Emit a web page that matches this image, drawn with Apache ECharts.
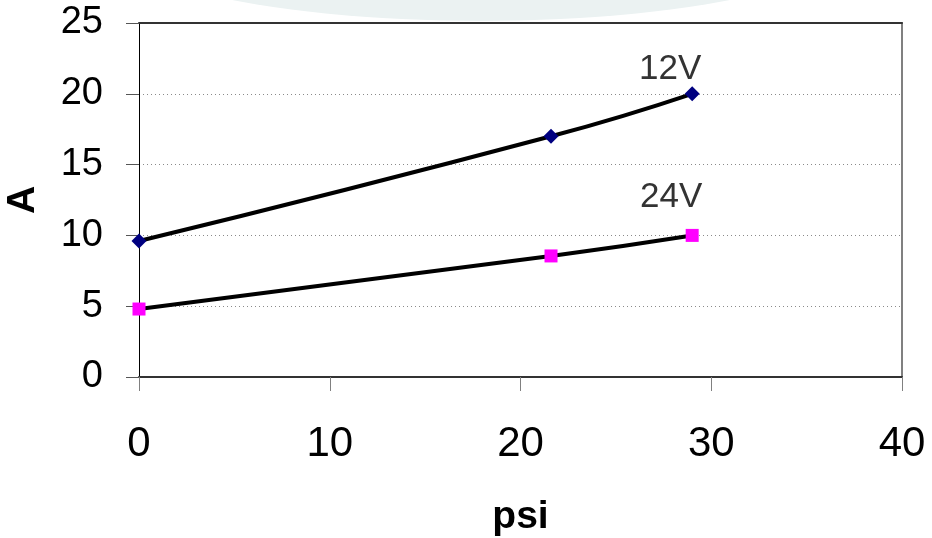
<!DOCTYPE html>
<html>
<head>
<meta charset="utf-8">
<script src="https://cdn.jsdelivr.net/npm/echarts@6/dist/echarts.min.js"></script>
<style>
html,body{margin:0;padding:0;background:#fff;}
#chart{width:932px;height:538px;}
</style>
</head>
<body>
<div id="chart"></div>
<script>
// Data
const psi = [0, 21.6, 29];
const amps12V = [9.6, 17.0, 20];
const amps24V = [4.8, 8.55, 10];
const seriesNames = ['12V', '24V'];
const xTicks = [0, 10, 20, 30, 40];
const yTicks = [0, 5, 10, 15, 20, 25];

const FONT = 'Arial, "Liberation Sans", sans-serif';

function pairs(xs, ys) { return xs.map((x, i) => [x, ys[i]]); }

function makeData(xs, ys, labelText, offset) {
  const d = pairs(xs, ys).map(p => ({ value: p }));
  const last = d[d.length - 1];
  last.label = {
    show: true, formatter: labelText, position: 'top', offset: offset,
    color: '#333333', fontSize: 35, fontFamily: FONT
  };
  return d;
}

const chart = echarts.init(document.getElementById('chart'));
chart.setOption({
  backgroundColor: '#ffffff',
  animation: false,
  graphic: [{
    type: 'circle',
    shape: { cx: 0, cy: 0, r: 100 },
    x: 481, y: -79, scaleX: 4.06, scaleY: 1,
    style: { fill: '#ebf2f2' },
    silent: true, z: -10
  }],
  grid: { left: 139, right: 30, top: 23, bottom: 161, containLabel: false, outerBoundsMode: 'none' },
  xAxis: [{
    type: 'value', min: xTicks[0], max: xTicks[xTicks.length - 1], interval: 10,
    name: 'psi', nameLocation: 'middle', nameGap: 121,
    nameTextStyle: { fontSize: 39, fontWeight: 'bold', color: '#000', fontFamily: FONT },
    axisLine: { show: true, onZero: false, lineStyle: { color: '#333', width: 2 } },
    axisTick: { show: true, length: 14, lineStyle: { color: '#808080', width: 1 } },
    axisLabel: { margin: 46, fontSize: 42, color: '#000', fontFamily: FONT },
    splitLine: { show: false }
  }, {
    type: 'value', position: 'top', min: 0, max: 40,
    axisLine: { show: true, onZero: false, lineStyle: { color: '#333', width: 2 } },
    axisTick: { show: false }, axisLabel: { show: false }, splitLine: { show: false }
  }],
  yAxis: [{
    type: 'value', min: yTicks[0], max: yTicks[yTicks.length - 1], interval: 5,
    name: 'A', nameLocation: 'middle', nameGap: 96, nameRotate: 90,
    nameTextStyle: { fontSize: 39, fontWeight: 'bold', color: '#000', fontFamily: FONT },
    axisLine: { show: true, onZero: false, lineStyle: { color: '#000', width: 1 } },
    axisTick: { show: true, length: 13, lineStyle: { color: '#555', width: 1 } },
    axisLabel: { margin: 36, fontSize: 38, color: '#000', fontFamily: FONT },
    splitLine: { show: true, lineStyle: { color: '#8a8a8a', width: 1, type: [1, 3] } }
  }, {
    type: 'value', position: 'right', min: 0, max: 25,
    axisLine: { show: true, onZero: false, lineStyle: { color: '#808080', width: 2 } },
    axisTick: { show: false }, axisLabel: { show: false }, splitLine: { show: false }
  }],
  series: [{
    name: seriesNames[0], type: 'line', smooth: 0.5,
    data: makeData(psi, amps12V, seriesNames[0], [-22, 6]),
    symbol: 'diamond', symbolSize: 15, showAllSymbol: true,
    itemStyle: { color: '#000080' },
    lineStyle: { color: '#000', width: 4 }, z: 5
  }, {
    name: seriesNames[1], type: 'line', smooth: 0.5,
    data: makeData(psi, amps24V, seriesNames[1], [-21, -9]),
    symbol: 'rect', symbolSize: 13, showAllSymbol: true,
    itemStyle: { color: '#ff00ff' },
    lineStyle: { color: '#000', width: 4 }, z: 5
  }]
});
</script>
</body>
</html>
